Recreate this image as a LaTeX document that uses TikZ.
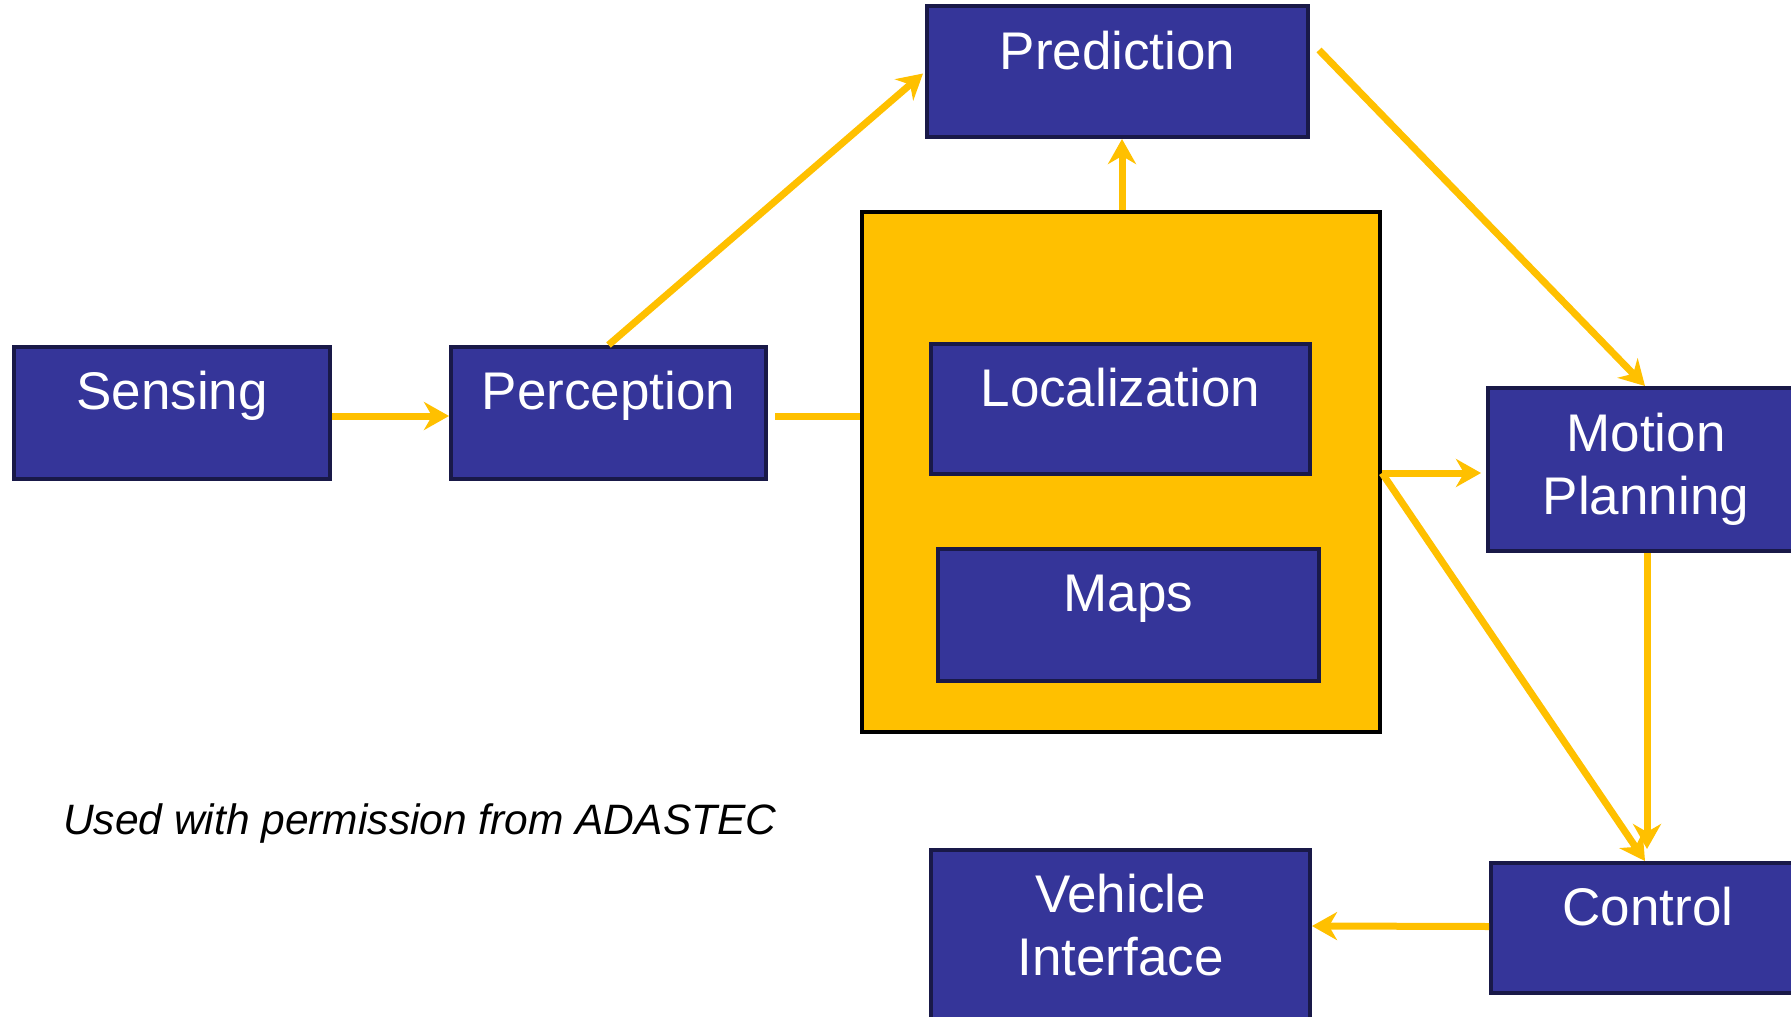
\documentclass[tikz,border=0pt]{standalone}
\usepackage{fontspec}
\setmainfont{Liberation Sans}
\usetikzlibrary{arrows.meta,calc}

\definecolor{boxblue}{RGB}{53,53,153}
\definecolor{boxedge}{RGB}{25,25,72}
\definecolor{flowyellow}{RGB}{255,192,0}

\tikzset{
  block/.style={draw=boxedge, line width=4pt, fill=boxblue, rectangle, inner sep=0pt},
  hubbox/.style={draw=black, line width=4pt, fill=flowyellow, rectangle, inner sep=0pt},
  lbl/.style={text=white, inner sep=0pt, anchor=base, align=center,
              font=\fontsize{53}{63}\selectfont},
  flow/.style={draw=flowyellow, line width=7pt,
               -{Stealth[length=25pt, width=28pt, inset=8pt]}},
  plainflow/.style={draw=flowyellow, line width=7pt}
}

\begin{document}
\begin{tikzpicture}[x=1pt, y=-1pt]
  \useasboundingbox (0,0) rectangle (1791,1017);
  \clip (0,0) rectangle (1791,1017);

  % processing blocks
  \node[block, minimum width=316pt, minimum height=132pt] (sense) at (172,413) {};
  \node[block, minimum width=315pt, minimum height=132pt] (perc)  at (608.5,413) {};
  \node[block, minimum width=381pt, minimum height=131pt] (pred)  at (1117.5,71.5) {};
  \node[hubbox, minimum width=518pt, minimum height=520pt] (hub) at (1121,472) {};
  \node[block, minimum width=379pt, minimum height=130pt] (loc)   at (1120.5,409) {};
  \node[block, minimum width=381pt, minimum height=132pt] (maps)  at (1128.5,615) {};
  \node[block, minimum width=316pt, minimum height=163pt] (plan)  at (1646,469.5) {};
  \node[block, minimum width=314pt, minimum height=130pt] (ctrl)  at (1648,928) {};
  \node[block, minimum width=379pt, minimum height=175pt] (veh)   at (1120.5,937.5) {};

  % block titles (base anchor of a two-line title is its second line)
  \node[lbl] (senseT) at ($(sense.north)+(0,64)$) {Sensing};
  \node[lbl] (percT)  at ($(perc.north)+(0,64)$)  {Perception};
  \node[lbl] (predT)  at ($(pred.north)+(0,65)$)  {Prediction};
  \node[lbl] (locT)   at ($(loc.north)+(0,64)$)   {Localization};
  \node[lbl] (mapsT)  at ($(maps.north)+(0,64)$)  {Maps};
  \node[lbl] (planT)  at ($(plan.north)+(0,128)$) {Motion\\Planning};
  \node[lbl] (ctrlT)  at ($(ctrl.north)+(0,64)$)  {Control};
  \node[lbl] (vehT)   at ($(veh.north)+(0,127)$)  {Vehicle\\Interface};

  % data flow
  \draw[flow] ($(sense.east)+(0,3)$) -- ($(perc.west)+(0,3)$);
  \draw[flow] (perc.north) -- ($(pred.west)+(-2,2)$);
  \draw[plainflow] ($(perc.east)+(7,3)$) -- ($(hub.west)+(0,-56)$);
  \draw[flow] ($(hub.north)+(1,0)$) -- ($(pred.south)+(4.5,0)$);
  \draw[flow] ($(pred.east)+(9,-21.5)$) -- ($(plan.north)+(-1,0)$);
  \draw[flow] ($(hub.east)+(0,1)$) -- ($(plan.west)+(-5,3.5)$);
  \draw[flow] ($(hub.east)+(0,1)$) -- ($(ctrl.north)+(-3,0)$);
  \draw[flow] ($(plan.south)+(1,0)$) -- ($(ctrl.north)+(-1,-12)$);
  \draw[flow] ($(ctrl.west)+(0,-1.5)$) -- ($(veh.east)+(0,-11.5)$);

  % credit line
  \node[anchor=base west, inner sep=0pt, font=\fontsize{42.5}{50}\selectfont\itshape] (credit)
    at (63,834) {Used with permission from ADASTEC};
\end{tikzpicture}
\end{document}
